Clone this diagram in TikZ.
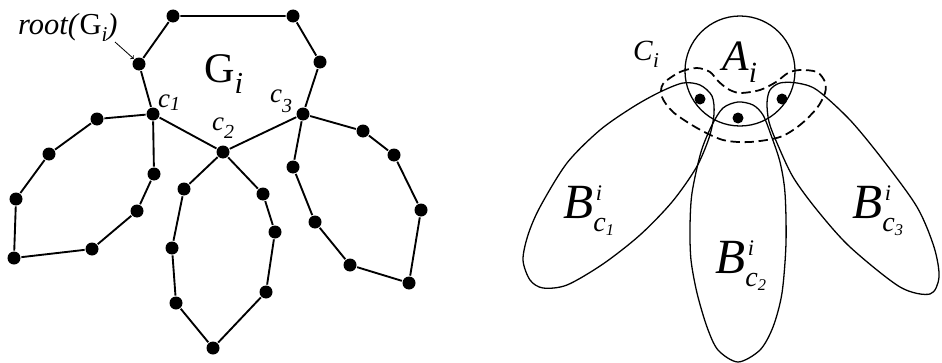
\documentclass[tikz,border=0pt]{standalone}
\usepackage{fontspec}
\setmainfont{Liberation Serif}
\usepackage{tikz}
\newcommand\fs[1]{\fontsize{#1}{#1}\selectfont}
\newcommand\Blab[1]{\fs{42}\textit{B}\rlap{\raisebox{0.36em}{\fs{19}\hspace{0.12em}\textit{i}}}\raisebox{-0.28em}{\fs{24}\textit{c}\raisebox{-0.12em}{\fs{14}\textit{#1}}}}
\tikzset{vtx/.style={circle,fill,inner sep=0,minimum size=0.39cm},
dot/.style={circle,fill,inner sep=0,minimum size=0.33cm},
lab/.style={inner sep=0,anchor=base west}}

\begin{document}
\begin{tikzpicture}[x=0.03cm,y=-0.03cm]
\useasboundingbox (0,0) rectangle (942,363);
\begin{scope}[line width=1.6pt]
\node[vtx] (t1) at (173,16){}; \node[vtx] (t2) at (293,16){}; \node[vtx] (t3) at (320,62){}; \node[vtx] (root) at (139,64){};
\node[vtx] (c1) at (153,114){}; \node[vtx] (c2) at (223,152){}; \node[vtx] (c3) at (303,114){};
\node[vtx] (l1) at (97,119){}; \node[vtx] (l2) at (49,154){}; \node[vtx] (l3) at (16,199){}; \node[vtx] (l4) at (14,258){}; \node[vtx] (l5) at (92,249){}; \node[vtx] (l6) at (137,211){}; \node[vtx] (l7) at (154,174){};
\node[vtx] (m1) at (184,189){}; \node[vtx] (m2) at (172,248){}; \node[vtx] (m3) at (176,303){}; \node[vtx] (m4) at (213,348){}; \node[vtx] (m5) at (266,292){}; \node[vtx] (m6) at (275,232){}; \node[vtx] (m7) at (263,194){};
\node[vtx] (r1) at (363,131){}; \node[vtx] (r2) at (394,155){}; \node[vtx] (r3) at (421,210){}; \node[vtx] (r4) at (409,283){}; \node[vtx] (r5) at (350,265){}; \node[vtx] (r6) at (315,222){}; \node[vtx] (r7) at (293,167){};

\draw (t1)--(t2)--(t3)--(c3)--(c2)--(c1)--(root)--(t1);
\draw (c1)--(l1)--(l2)--(l3)--(l4)--(l5)--(l6)--(l7)--(c1);
\draw (c2)--(m1)--(m2)--(m3)--(m4)--(m5)--(m6)--(m7)--(c2);
\draw (c3)--(r1)--(r2)--(r3)--(r4)--(r5)--(r6)--(r7)--(c3);
\end{scope}

\node[lab] (rootlab) at (18,34){\fs{26}\textit{root(}G\raisebox{-0.25em}{\fs{18}\textit{i}}\textit{)}};
\coordinate (rootarr) at (115,42);
\draw[->,line width=0.7pt] (rootarr)--(root.north west);
\node[lab] (Glab) at (204,82){\fs{36}G\raisebox{-0.28em}{\fs{26}\textit{i}}};
\node[lab] (c1lab) at (158,107){\fs{23}\textit{c}\raisebox{-0.12em}{\fs{17}\textit{1}}};
\node[lab] (c2lab) at (212,130){\fs{23}\textit{c}\raisebox{-0.3em}{\fs{17}\textit{2}}};
\node[lab] (c3lab) at (270,102){\fs{23}\textit{c}\raisebox{-0.38em}{\fs{17}\textit{3}}};

%Second Figure

\begin{scope}[line width=1.1pt]
\node[draw,circle,minimum size=3.3cm] (A) at (740,71){};
\draw plot[smooth cycle] coordinates {(700,85) (712,96) (714,114) (709,138) (696,168) (672,202) (640,235) (603,264) (567,285) (543,288) (530,280) (523,260) (528,235) (540,207) (567,163) (600,130) (633,107) (660,92) (683,83)};
\draw plot[smooth cycle] coordinates {(738,102) (753,105) (763,115) (771,135) (780,162) (785,193) (786,243) (782,293) (773,327) (760,350) (738,362) (718,350) (707,327) (697,293) (691,260) (690,227) (692,193) (701,152) (712,125) (723,108)};
\draw plot[smooth cycle] coordinates {(780,83) (797,83) (817,90) (850,120) (883,160) (917,207) (934,247) (939,277) (930,294) (900,287) (850,247) (817,210) (793,177) (777,143) (769,122) (767,103) (770,90)};
\draw[dashed,line width=1.5pt,dash pattern=on 8pt off 4pt] plot[smooth cycle] coordinates {(663,84) (680,72) (697,68) (710,72) (718,81) (728,89) (740,93) (760,90) (776,82) (788,73) (800,70) (817,72) (825,82) (825,93) (817,108) (800,125) (780,137) (750,142) (723,140) (697,128) (673,112) (662,97)};
\end{scope}
\node[dot] (d1) at (700,99){}; \node[dot] (d2) at (738,118){}; \node[dot] (d3) at (782,99){};

\node[lab] (Alab) at (722,70){\fs{37}\textit{A}\raisebox{-0.28em}{\fs{25}\textit{i}}};
\node[lab] (Clab) at (633,60){\fs{25}\textit{C}\raisebox{-0.25em}{\fs{18}\textit{i}}};
\node[lab] (B1) at (563,218){\Blab{1}};
\node[lab] (B2) at (715,273){\Blab{2}};
\node[lab] (B3) at (852,218){\Blab{3}};
\end{tikzpicture}
\end{document}
